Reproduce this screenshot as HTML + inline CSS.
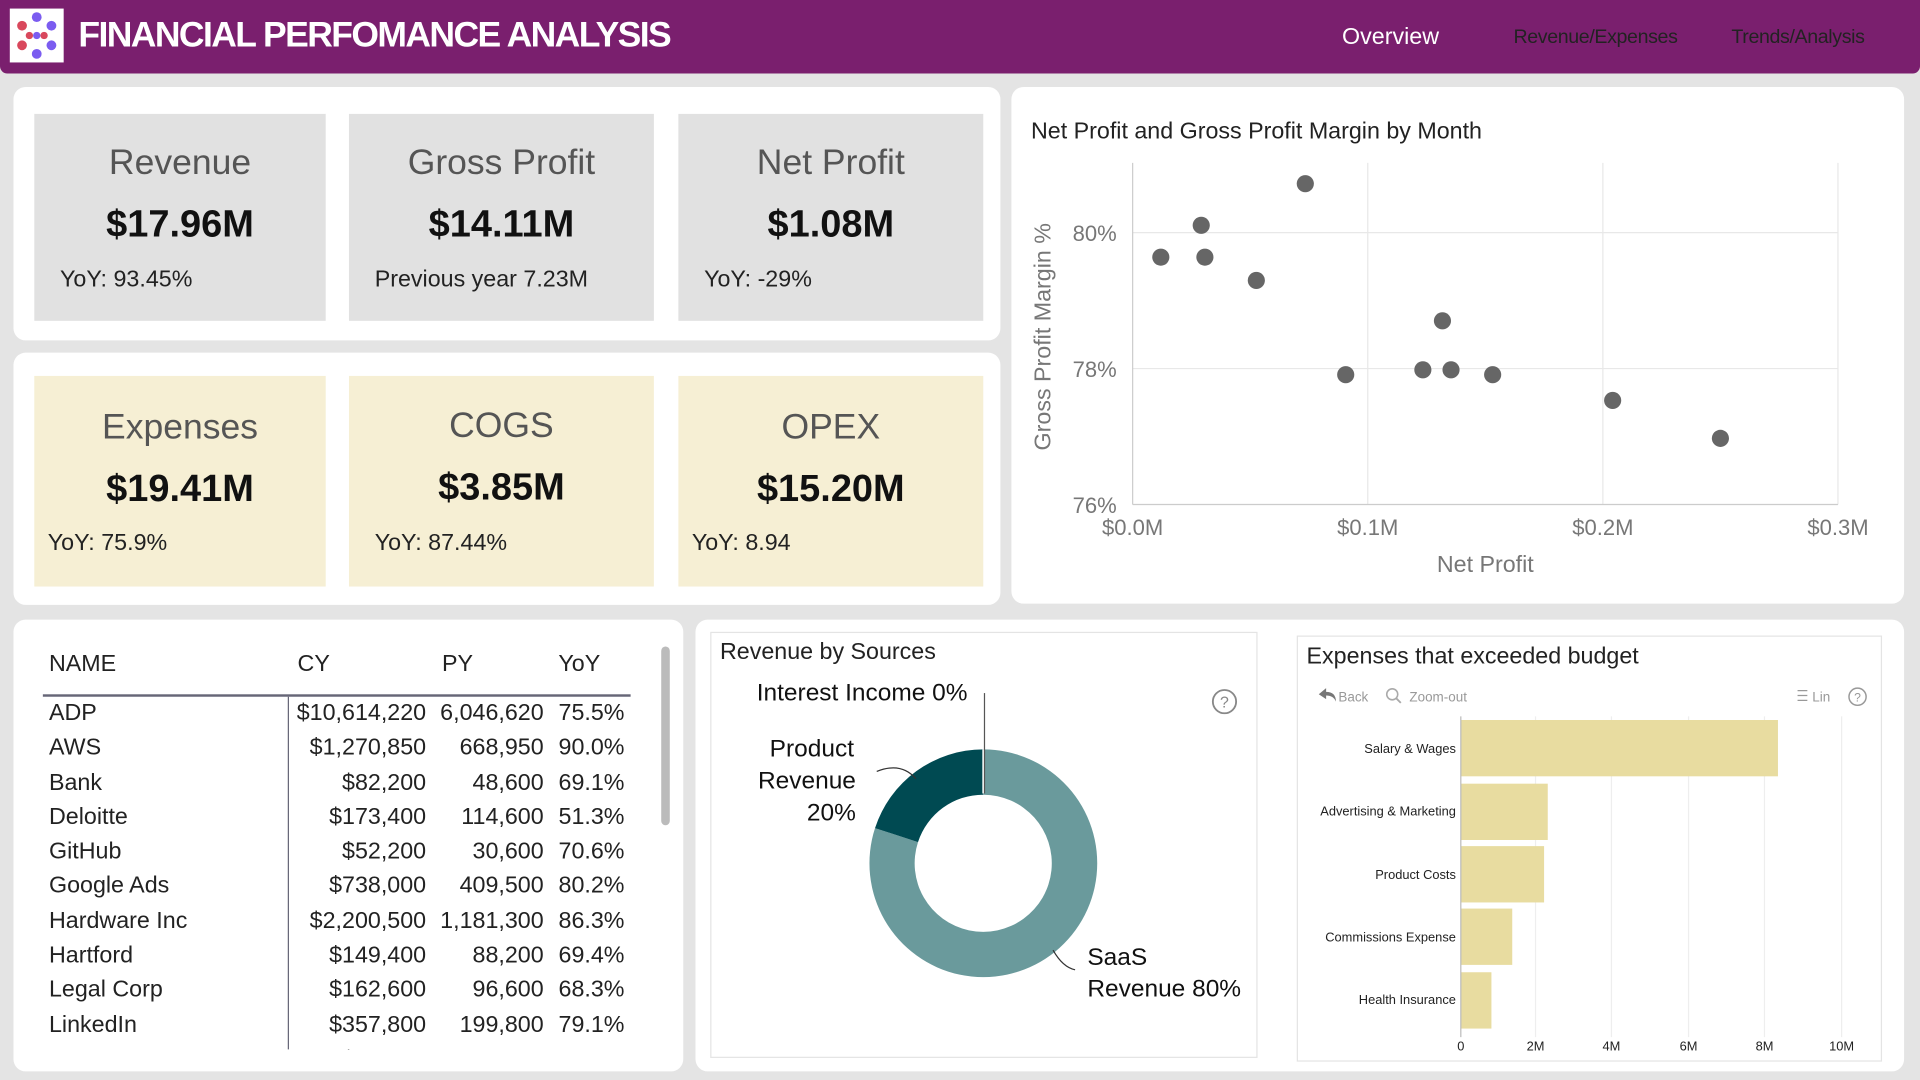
<!DOCTYPE html>
<html><head><meta charset="utf-8"><style>
html,body{margin:0;padding:0;width:1920px;height:1080px;overflow:hidden;background:#e4e4e4;font-family:"Liberation Sans",sans-serif}
#s{position:absolute;left:0;top:0;width:1568px;height:882px;transform:scale(1.22449);transform-origin:0 0}
.a{position:absolute}
.panel{position:absolute;background:#fff;border-radius:10px}
.kpi{position:absolute;text-align:center;color:#111}
.kpi .t{position:absolute;left:0;right:0;top:24px;font-size:29px;color:#555}
.kpi .v{position:absolute;left:0;right:0;top:72px;font-size:31px;font-weight:bold}
.kpi .y{position:absolute;top:125px;font-size:19px;color:#222}
.g{background:#e1e1e1}.b{background:#f6efd4}
table{border-collapse:collapse;font-size:19px;color:#222}
td{padding:0;height:28.3px;line-height:28.3px}
.h{position:absolute;top:532px;font-size:19px;color:#222}
</style></head><body><div id="s">
<div class="a" style="left:0;top:0;width:1568px;height:60px;background:#7a1f6e;border-radius:0 0 6px 6px"></div>
<div class="a" style="left:8px;top:7px;width:44px;height:44px;background:#fff">
<svg width="44" height="44"><g fill="#7b5cf0"><circle cx="22" cy="7" r="4"/><circle cx="34" cy="14" r="4"/><circle cx="34" cy="30" r="4"/><circle cx="22" cy="37" r="4"/><circle cx="22" cy="22" r="3"/></g><g fill="#d9485c"><circle cx="10" cy="14" r="4"/><circle cx="10" cy="30" r="4"/><circle cx="16" cy="22" r="3"/><circle cx="28" cy="22" r="3"/></g></svg></div>
<div class="a" style="left:64px;top:13px;font-size:29px;font-weight:bold;color:#fff;letter-spacing:-1.3px">FINANCIAL PERFOMANCE ANALYSIS</div>
<div class="a" style="left:1096px;top:20px;font-size:19px;color:#fff">Overview</div>
<div class="a" style="left:1236px;top:22px;font-size:16px;color:#222;letter-spacing:-0.3px">Revenue/Expenses</div>
<div class="a" style="left:1414px;top:22px;font-size:16px;color:#222;letter-spacing:-0.3px">Trends/Analysis</div>

<div class="panel" style="left:11px;top:71px;width:806px;height:207px"></div>
<div class="panel" style="left:11px;top:288px;width:806px;height:206px"></div>
<div class="kpi g" style="left:28px;top:93px;width:238px;height:169px"><div class="t">Revenue</div><div class="v">$17.96M</div><div class="y" style="left:21px">YoY: 93.45%</div></div>
<div class="kpi g" style="left:285px;top:93px;width:249px;height:169px"><div class="t">Gross Profit</div><div class="v">$14.11M</div><div class="y" style="left:21px">Previous year 7.23M</div></div>
<div class="kpi g" style="left:554px;top:93px;width:249px;height:169px"><div class="t">Net Profit</div><div class="v">$1.08M</div><div class="y" style="left:21px">YoY: -29%</div></div>
<div class="kpi b" style="left:28px;top:307px;width:238px;height:172px"><div class="t" style="top:26px">Expenses</div><div class="v" style="top:74px">$19.41M</div><div class="y" style="left:11px;top:126px">YoY: 75.9%</div></div>
<div class="kpi b" style="left:285px;top:307px;width:249px;height:172px"><div class="t" style="top:25px">COGS</div><div class="v" style="top:73px">$3.85M</div><div class="y" style="left:21px;top:126px">YoY: 87.44%</div></div>
<div class="kpi b" style="left:554px;top:307px;width:249px;height:172px"><div class="t" style="top:26px">OPEX</div><div class="v" style="top:74px">$15.20M</div><div class="y" style="left:11px;top:126px">YoY: 8.94</div></div>

<div class="panel" style="left:826px;top:71px;width:729px;height:422px"></div>
<svg class="a" style="left:826px;top:71px" width="729" height="422">
<text x="16" y="42" font-size="19" fill="#222">Net Profit and Gross Profit Margin by Month</text>
<g stroke="#e8e8e8"><line x1="99" y1="119" x2="675" y2="119"/><line x1="99" y1="230" x2="675" y2="230"/><line x1="291" y1="62" x2="291" y2="341"/><line x1="483" y1="62" x2="483" y2="341"/><line x1="675" y1="62" x2="675" y2="341"/></g>
<line x1="99" y1="62" x2="99" y2="341" stroke="#ccc"/><line x1="99" y1="341" x2="675" y2="341" stroke="#ccc"/>
<g font-size="18" fill="#777"><text x="86" y="126" text-anchor="end">80%</text><text x="86" y="237" text-anchor="end">78%</text><text x="86" y="348" text-anchor="end">76%</text>
<text x="99" y="366" text-anchor="middle">$0.0M</text><text x="291" y="366" text-anchor="middle">$0.1M</text><text x="483" y="366" text-anchor="middle">$0.2M</text><text x="675" y="366" text-anchor="middle">$0.3M</text>
<text x="387" y="396" text-anchor="middle" font-size="19">Net Profit</text>
<text transform="translate(32,204) rotate(-90)" text-anchor="middle" font-size="19">Gross Profit Margin %</text></g>
<g fill="#666"><circle cx="122" cy="139" r="7"/><circle cx="155" cy="113" r="7"/><circle cx="158" cy="139" r="7"/><circle cx="200" cy="158" r="7"/><circle cx="240" cy="79" r="7"/><circle cx="273" cy="235" r="7"/><circle cx="336" cy="231" r="7"/><circle cx="352" cy="191" r="7"/><circle cx="359" cy="231" r="7"/><circle cx="393" cy="235" r="7"/><circle cx="491" cy="256" r="7"/><circle cx="579" cy="287" r="7"/></g>
</svg>

<div class="panel" style="left:11px;top:506px;width:547px;height:369px"></div>
<div class="a" style="left:540px;top:528px;width:7px;height:146px;background:#bbb;border-radius:4px"></div>
<div class="h" style="left:40px">NAME</div><div class="h" style="left:243px">CY</div><div class="h" style="left:361px">PY</div><div class="h" style="left:456px">YoY</div>
<div class="a" style="left:35px;top:567px;width:480px;height:2px;background:#667"></div>
<div class="a" style="left:235px;top:569px;width:1px;height:288px;background:#667"></div>
<div class="a" style="left:35px;top:569px;width:480px;height:288px;overflow:hidden">
<table style="position:absolute;left:0;top:0;width:475px">
<colgroup><col style="width:205px"><col style="width:108px"><col style="width:96px"><col></colgroup>
<tr><td style="padding-left:5px">ADP</td><td align="right">$10,614,220</td><td align="right">6,046,620</td><td align="right">75.5%</td></tr>
<tr><td style="padding-left:5px">AWS</td><td align="right">$1,270,850</td><td align="right">668,950</td><td align="right">90.0%</td></tr>
<tr><td style="padding-left:5px">Bank</td><td align="right">$82,200</td><td align="right">48,600</td><td align="right">69.1%</td></tr>
<tr><td style="padding-left:5px">Deloitte</td><td align="right">$173,400</td><td align="right">114,600</td><td align="right">51.3%</td></tr>
<tr><td style="padding-left:5px">GitHub</td><td align="right">$52,200</td><td align="right">30,600</td><td align="right">70.6%</td></tr>
<tr><td style="padding-left:5px">Google Ads</td><td align="right">$738,000</td><td align="right">409,500</td><td align="right">80.2%</td></tr>
<tr><td style="padding-left:5px">Hardware Inc</td><td align="right">$2,200,500</td><td align="right">1,181,300</td><td align="right">86.3%</td></tr>
<tr><td style="padding-left:5px">Hartford</td><td align="right">$149,400</td><td align="right">88,200</td><td align="right">69.4%</td></tr>
<tr><td style="padding-left:5px">Legal Corp</td><td align="right">$162,600</td><td align="right">96,600</td><td align="right">68.3%</td></tr>
<tr><td style="padding-left:5px">LinkedIn</td><td align="right">$357,800</td><td align="right">199,800</td><td align="right">79.1%</td></tr>
<tr><td style="padding-left:5px">Mailchimp</td><td align="right">$52,500</td><td align="right">50,500</td><td align="right">4.0%</td></tr>
</table></div>

<div class="panel" style="left:568px;top:506px;width:987px;height:369px"></div>
<div class="a" style="left:580px;top:516px;width:445px;height:346px;border:1px solid #e4e4e4"></div>
<div class="a" style="left:1059px;top:519px;width:476px;height:346px;border:1px solid #e4e4e4"></div>
<svg class="a" style="left:568px;top:506px" width="987" height="369">
<text x="20" y="32" font-size="19" fill="#222">Revenue by Sources</text>
<g font-size="20" fill="#111"><text x="50" y="66">Interest Income 0%</text><text x="95" y="112" text-anchor="middle">Product</text><text x="131" y="138" text-anchor="end">Revenue</text><text x="131" y="164" text-anchor="end">20%</text>
<text x="320" y="282">SaaS</text><text x="320" y="308">Revenue 80%</text></g>
<circle cx="432" cy="67" r="9.5" fill="none" stroke="#888" stroke-width="1.5"/><text x="432" y="72" font-size="13" fill="#888" text-anchor="middle">?</text>
<path d="M235,106 A93,93 0 1 1 146.6,170.3 L181.7,181.7 A56,56 0 1 0 235,143 Z" fill="#6a9a9c"/>
<path d="M146.6,170.3 A93,93 0 0 1 235,106 L235,143 A56,56 0 0 0 181.7,181.7 Z" fill="#004a52"/>
<line x1="235" y1="142" x2="235" y2="106" stroke="#fff" stroke-width="1.5"/>
<line x1="236" y1="60" x2="236" y2="142" stroke="#555" stroke-width="1"/>
<path d="M148,124 Q168,116 180,130" fill="none" stroke="#333"/>
<path d="M292,270 Q300,284 310,286" fill="none" stroke="#333"/>
</svg>
<svg class="a" style="left:1059px;top:519px" width="476" height="346">
<text x="8" y="23" font-size="19" fill="#222">Expenses that exceeded budget</text>
<g font-size="11" fill="#999"><text x="34" y="54">Back</text><text x="92" y="54">Zoom-out</text><text x="421" y="54">Lin</text></g>
<path d="M18,48 l6,-5 v3 q8,0 8,8 q-2,-5 -8,-5 v3 z" fill="#777"/>
<circle cx="78" cy="48" r="4.5" fill="none" stroke="#aaa" stroke-width="1.3"/><line x1="81" y1="51" x2="85" y2="55" stroke="#aaa" stroke-width="1.5"/>
<g stroke="#999"><line x1="409" y1="45" x2="417" y2="45"/><line x1="409" y1="49" x2="417" y2="49"/><line x1="409" y1="53" x2="417" y2="53"/></g>
<circle cx="458" cy="50" r="7" fill="none" stroke="#999" stroke-width="1.2"/><text x="458" y="54" font-size="10" fill="#999" text-anchor="middle">?</text>
<g stroke="#eee"><line x1="195" y1="66" x2="195" y2="328"/><line x1="257" y1="66" x2="257" y2="328"/><line x1="320" y1="66" x2="320" y2="328"/><line x1="382" y1="66" x2="382" y2="328"/><line x1="445" y1="66" x2="445" y2="328"/></g>
<g fill="#e8dca0"><rect x="134" y="69" width="259" height="46"/><rect x="134" y="121" width="71" height="46"/><rect x="134" y="172" width="68" height="46"/><rect x="134" y="223" width="42" height="46"/><rect x="134" y="275" width="25" height="46"/></g>
<line x1="134" y1="66" x2="134" y2="328" stroke="#bbb"/>
<g font-size="10.5" fill="#222" text-anchor="end"><text x="130" y="96">Salary &amp; Wages</text><text x="130" y="147">Advertising &amp; Marketing</text><text x="130" y="199">Product Costs</text><text x="130" y="250">Commissions Expense</text><text x="130" y="301">Health Insurance</text></g>
<g font-size="10.5" fill="#222" text-anchor="middle"><text x="134" y="339">0</text><text x="195" y="339">2M</text><text x="257" y="339">4M</text><text x="320" y="339">6M</text><text x="382" y="339">8M</text><text x="445" y="339">10M</text></g>
</svg>
</div></body></html>
